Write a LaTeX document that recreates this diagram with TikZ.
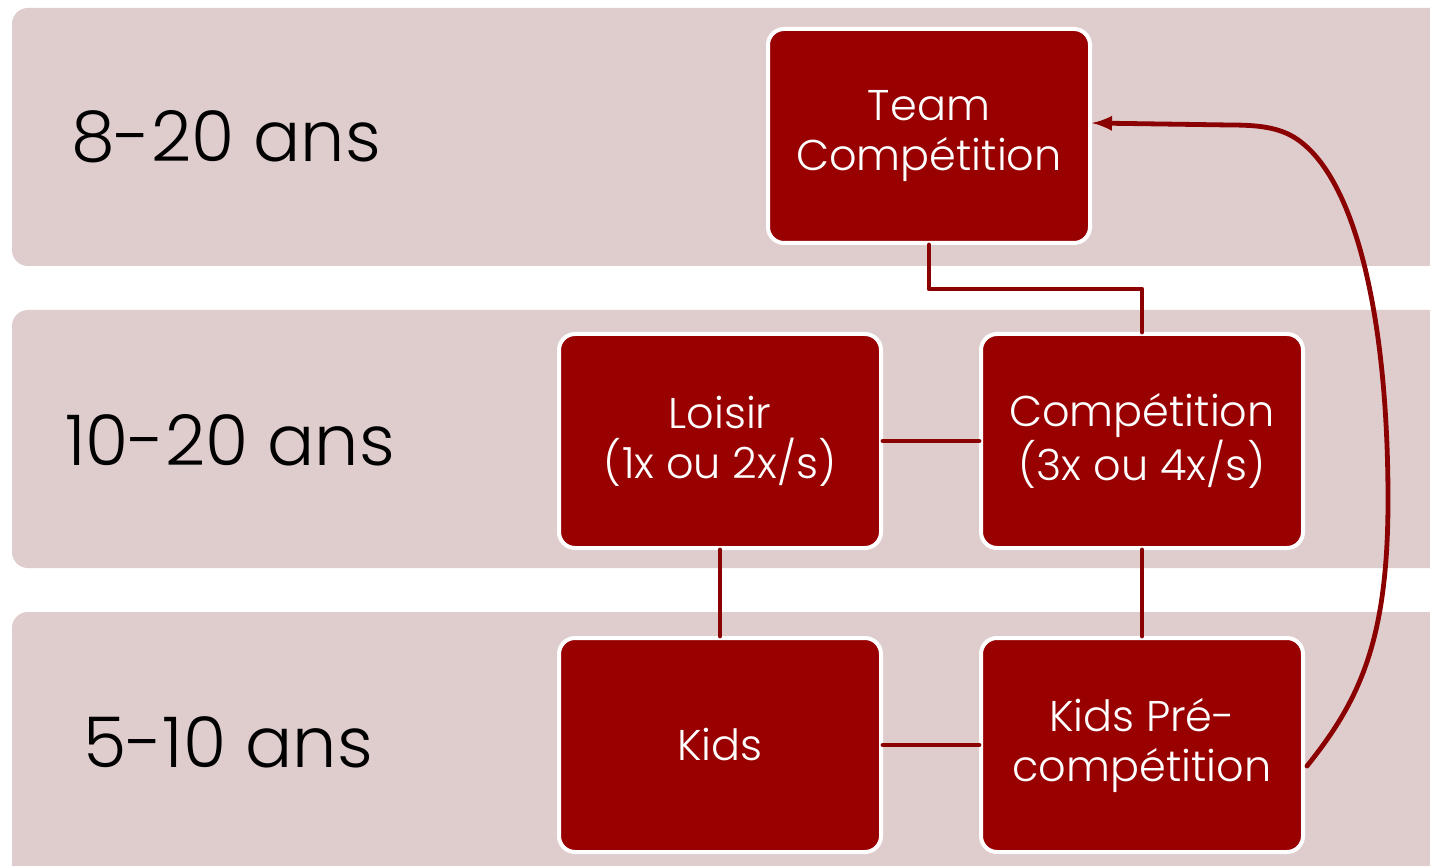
\documentclass[tikz,border=0pt]{standalone}
\usepackage{fontspec}
\setmainfont{Poppins Light}
\usetikzlibrary{arrows}
\definecolor{bandpink}{RGB}{223,204,205}
\definecolor{boxred}{RGB}{153,0,0}
\definecolor{linered}{RGB}{139,0,0}
\tikzset{
  band/.style={fill=bandpink,draw=none,rounded corners=8pt},
  agelabel/.style={anchor=center,inner sep=0pt,font=\fontsize{35}{38}\selectfont},
  stage/.style={fill=boxred,draw=white,line width=2pt,rounded corners=8pt,
    minimum width=161pt,minimum height=107pt,align=center,text=white,
    font=\fontsize{21.5}{25}\selectfont},
  link/.style={draw=linered,line width=2.4pt}
}
\begin{document}
\begin{tikzpicture}
    [line cap=round,line join=round,x=0.5pt,y=-0.5pt]
\useasboundingbox (0,0) rectangle (1430,866);
\clip (0,0) rectangle (1430,866);
%age bands
  \fill[white] (0,0) rectangle (1430,866);
  \path[band] (12,8) rectangle (1480,266);
  \path[band] (12,310) rectangle (1480,568);
  \path[band] (12,612) rectangle (1480,900);
  \node[agelabel] (ageteam) at (226,137) {8-20 ans};
  \node[agelabel] (agemid) at (230,440) {10-20 ans};
  \node[agelabel] (agekids) at (228,742) {5-10 ans};
%the stages
  \node[stage] (team) at (929,136) {Team\\Compétition};
  \node[stage] (loisir) at (720,441) {Loisir\\(1x ou 2x/s)};
  \node[stage] (comp) at (1142,441) {Compétition\\(3x ou 4x/s)};
  \node[stage] (kids) at (720,745) {Kids};
  \node[stage] (kidspre) at (1142,745) {Kids Pré-\\compétition};
%links between the stages
  \draw[link] (team.south) -- ++(0,44) -| (comp.north);
  \draw[link] (loisir.east) -- (comp.west);
  \draw[link] (loisir.south) -- (kids.north);
  \draw[link] (comp.south) -- (kidspre.north);
  \draw[link] (kids.east) -- (kidspre.east -| kidspre.west);
  \coordinate (kpout) at (1307,766);
  \draw[link,-latex] (kpout) .. controls (1360,700) and (1388,640) .. (1388,500)
     .. controls (1388,330) and (1360,200) .. (1310,150)
     .. controls (1290,130) and (1270,125) .. (1230,125) -- (team.east |- 0,123);
\end{tikzpicture}
\end{document}
